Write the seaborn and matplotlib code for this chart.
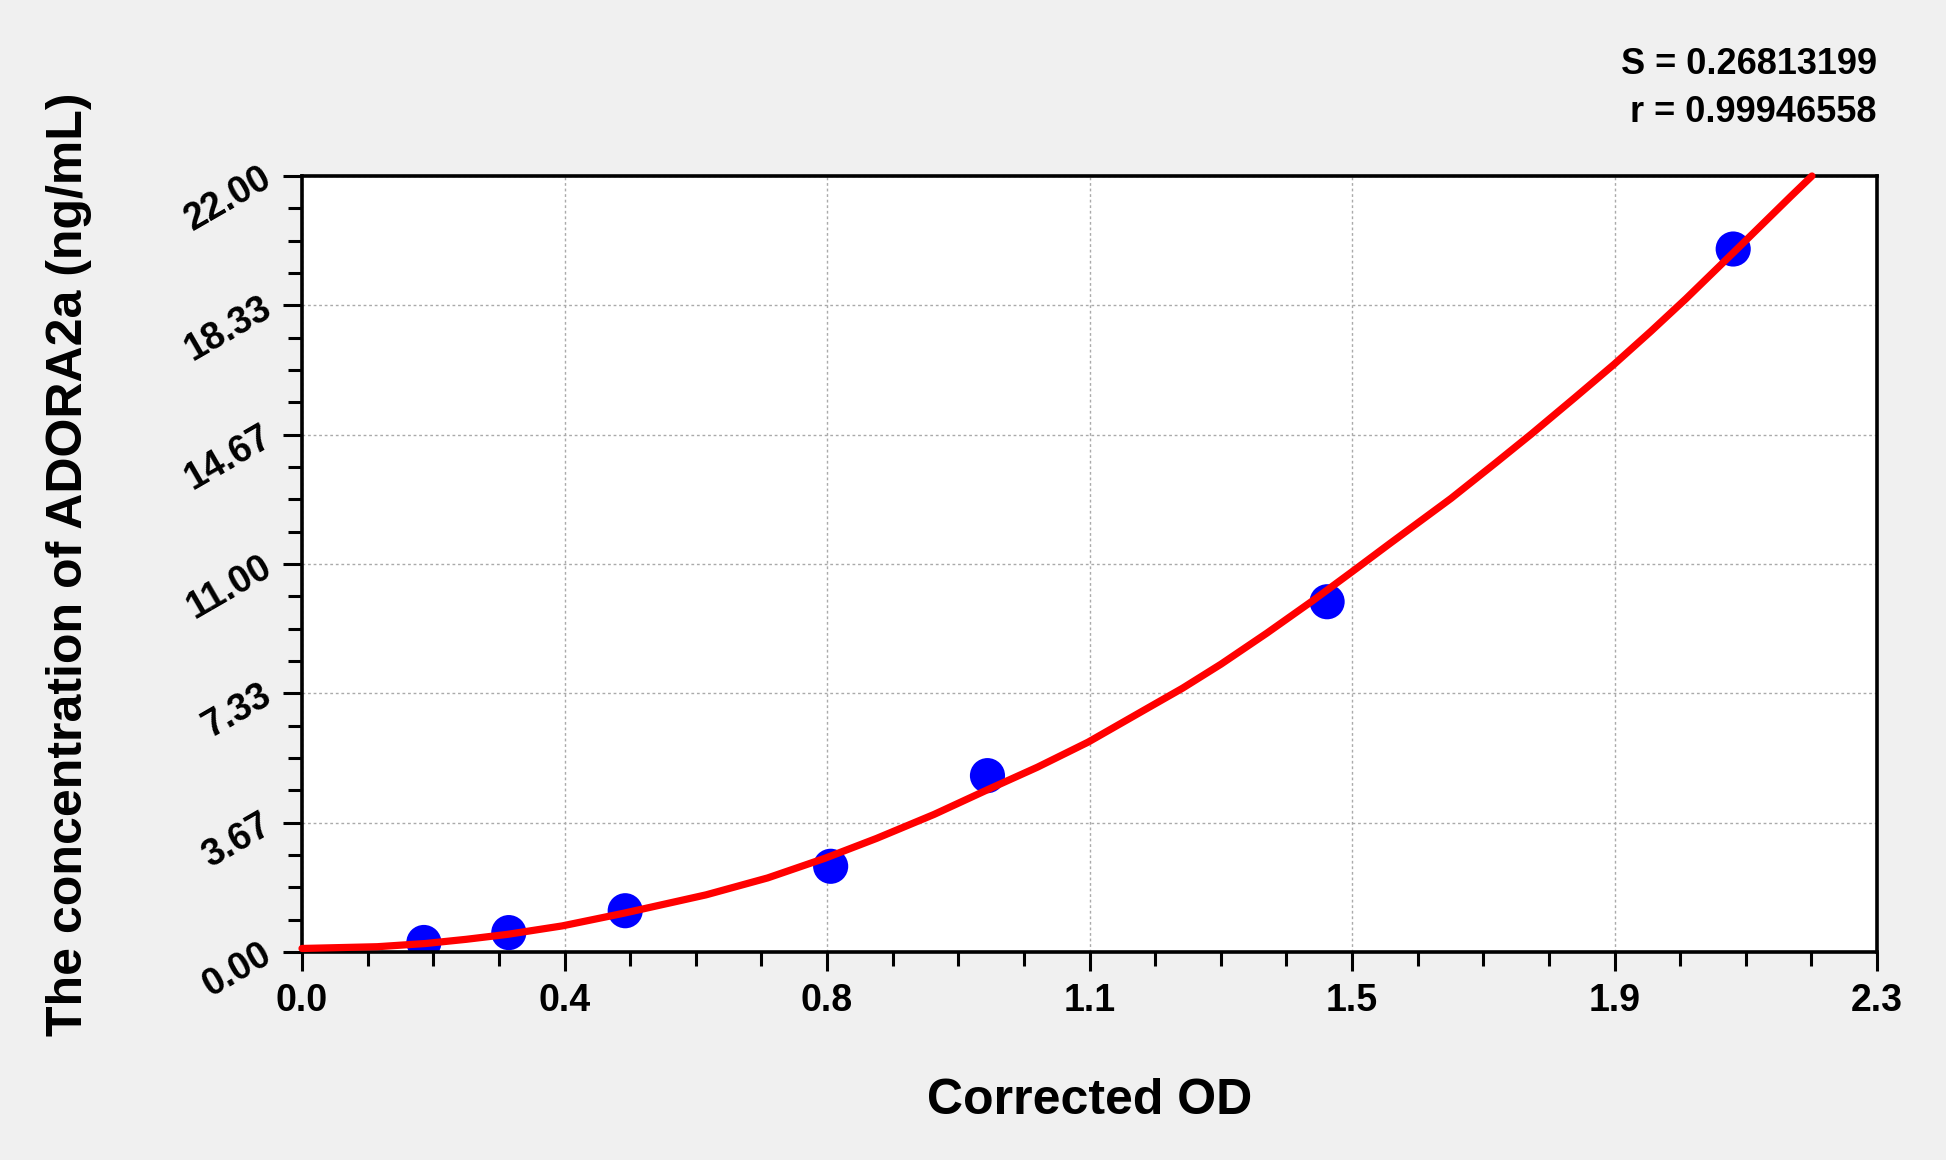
import matplotlib
matplotlib.use("Agg")
import matplotlib.pyplot as plt
from matplotlib.ticker import AutoMinorLocator, FixedLocator
import seaborn as sns
import pandas as pd

# Standard points (corrected OD vs concentration)
od_values = [0.178, 0.302, 0.472, 0.772, 1.001, 1.497, 2.090]
conc_values = [0.27, 0.55, 1.17, 2.43, 5.00, 9.93, 19.93]

# Fitted curve
curve_od = [0.0, 0.11, 0.18, 0.24, 0.30, 0.38, 0.47, 0.59, 0.68, 0.764, 0.839,
            0.923, 1.001, 1.074, 1.148, 1.230, 1.286, 1.342, 1.409, 1.476,
            1.532, 1.590, 1.678, 1.744, 1.795, 1.859, 1.916, 1.970, 2.021,
            2.092, 2.174, 2.205]
curve_conc = [0.10, 0.15, 0.24, 0.36, 0.50, 0.74, 1.10, 1.62, 2.10, 2.66, 3.22,
              3.90, 4.60, 5.24, 5.95, 6.86, 7.48, 8.16, 9.04, 9.96,
              10.76, 11.60, 12.86, 13.88, 14.68, 15.72, 16.66, 17.60, 18.52,
              19.86, 21.42, 22.0]

x_tick_labels = ["0.0", "0.4", "0.8", "1.1", "1.5", "1.9", "2.3"]
y_tick_labels = ["0.00", "3.67", "7.33", "11.00", "14.67", "18.33", "22.00"]
fit_text = ["S = 0.26813199", "r = 0.99946558"]

sns.set_theme(style="ticks")
plt.rcParams["font.family"] = ["Liberation Sans", "DejaVu Sans"]
plt.rcParams["text.color"] = "black"
plt.rcParams["axes.labelcolor"] = "black"
plt.rcParams["xtick.color"] = "black"
plt.rcParams["ytick.color"] = "black"

points = pd.DataFrame({"od": od_values, "conc": conc_values})
curve = pd.DataFrame({"od": curve_od, "conc": curve_conc})

fig = plt.figure(figsize=(19.46, 11.6), dpi=100, facecolor="#f0f0f0")
ax = fig.add_axes([302 / 1946, 1 - 952 / 1160, 1575 / 1946, 776 / 1160])
ax.set_facecolor("white")

sns.lineplot(data=curve, x="od", y="conc", ax=ax, color="#ff0000", linewidth=5.2,
             sort=False, estimator=None, zorder=3, clip_on=False)
sns.scatterplot(data=points, x="od", y="conc", ax=ax, color="#0000ff", s=640,
                edgecolor="none", zorder=2)

ax.set_xlim(0, 2.3)
ax.set_ylim(0, 22)
xt = [2.3 * i / 6 for i in range(7)]
yt = [22 * i / 6 for i in range(7)]
ax.xaxis.set_major_locator(FixedLocator(xt))
ax.yaxis.set_major_locator(FixedLocator(yt))
ax.set_xticklabels(x_tick_labels, fontsize=27, fontweight="bold")
ax.set_yticklabels(y_tick_labels, fontsize=27, fontweight="bold", rotation=30,
                   rotation_mode="anchor", ha="right", va="center")
ax.xaxis.set_minor_locator(AutoMinorLocator(4))
ax.yaxis.set_minor_locator(AutoMinorLocator(4))
ax.tick_params(which="major", length=14, width=2.2, color="black", pad=8)
ax.tick_params(which="minor", length=10, width=2.2, color="black")
ax.tick_params(axis="y", which="major", pad=10)

ax.grid(True, which="major", color="#aaaaaa", linestyle=(0, (2, 2)), linewidth=1)
for sp in ax.spines.values():
    sp.set_visible(True)
    sp.set_color("black")
    sp.set_linewidth(2.6)

ax.set_xlabel("Corrected OD", fontsize=36, fontweight="bold", va="center")
ax.xaxis.set_label_coords(0.5, -0.192)
ax.set_ylabel("The concentration of ADORA2a (ng/mL)", fontsize=36, fontweight="bold",
              va="center")
ax.yaxis.set_label_coords(-0.148, 0.5)

fig.text(1877 / 1946, 1 - 64 / 1160, fit_text[0], fontsize=26, fontweight="bold",
         ha="right", va="center")
fig.text(1877 / 1946, 1 - 112 / 1160, fit_text[1], fontsize=26, fontweight="bold",
         ha="right", va="center")

fig.savefig("out.png", dpi=100, facecolor=fig.get_facecolor())
